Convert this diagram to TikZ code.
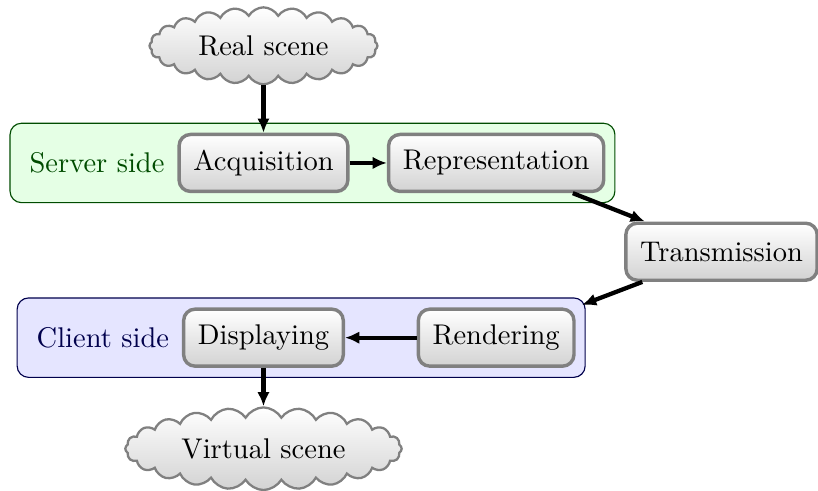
\documentclass[tikz,border=0pt]{standalone}
\usepackage{tikz}
\usetikzlibrary{positioning, arrows.meta, shapes.symbols, fit, backgrounds}

\begin{document}
\begin{tikzpicture}[
    % Styles
    stage/.style={draw=gray, very thick, rounded corners, top color=white, bottom color=gray!35, inner sep=5pt, minimum height=20pt},
    scene/.style={cloud, cloud puffs=24, cloud puff arc=120, cloud ignores aspect, draw=gray, thick, top color=white, bottom color=gray!35, inner sep=1pt},
    arrow/.style={-{Latex[length=5pt, width=4.4pt]}, line width=1.5pt, black},
    serverbox/.style={draw=green!30!black, fill=green!10, rounded corners},
    clientbox/.style={draw=blue!30!black, fill=blue!10, rounded corners},
]
\useasboundingbox (0,0) rectangle (10.09,6.055);

% Real scene
\node[scene, minimum width=80pt, minimum height=27pt] (real) at (3.25, 5.49) {Real scene};

% Server side
\node[stage] (acq) at (3.25, 4.045) {Acquisition};
\node[stage] (repr) at (6.12, 4.045) {Representation};
\node[left=1pt of acq, text=green!30!black] (serverlabel) {Server side};
\draw[arrow] (real) -- (acq);
\draw[arrow] (acq) -- (repr);

% Transmission
\node[stage] (trans) at (8.9, 2.95) {Transmission};
\draw[arrow] (repr) -- (trans);

% Client side
\node[stage] (disp) at (3.25, 1.89) {Displaying};
\node[stage] (rend) at (6.12, 1.89) {Rendering};
\node[left=1pt of disp, text=blue!30!black] (clientlabel) {Client side};
\draw[arrow] (rend) -- (disp);
\draw[arrow, shorten >=2.5pt] (trans) -- (rend);

% Group boxes behind the stages
\begin{scope}[on background layer]
\node[serverbox, fit=(serverlabel)(acq)(repr)] (server) {};
\node[clientbox, fit=(clientlabel)(disp)(rend)] (client) {};
\end{scope}

% Virtual scene
\node[scene, minimum width=97pt, minimum height=29pt] (virt) at (3.25, 0.52) {Virtual scene};
\draw[arrow] (disp) -- (virt);

\end{tikzpicture}
\end{document}
